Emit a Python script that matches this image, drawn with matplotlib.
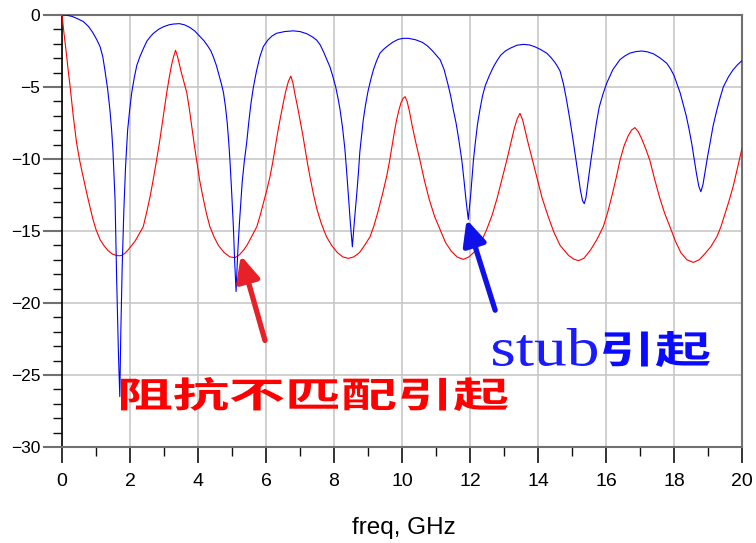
import matplotlib
matplotlib.use("Agg")
import matplotlib.pyplot as plt
import matplotlib.patheffects as pe
from matplotlib.font_manager import FontProperties
from matplotlib.patches import PathPatch
from matplotlib.textpath import TextPath
from matplotlib.transforms import Affine2D

# blue trace (dB vs GHz)
blue_freq = [
    0.00, 0.15, 0.30, 0.45, 0.63, 0.78, 0.90, 1.02, 1.12, 1.20, 1.26, 1.34, 1.41, 1.46,
    1.50, 1.56, 1.61, 1.66, 1.70, 1.73, 1.77, 1.82, 1.87, 1.93, 1.99, 2.05, 2.13, 2.20,
    2.29, 2.40, 2.50, 2.60, 2.69, 2.85, 3.00, 3.15, 3.27, 3.45, 3.60, 3.75, 3.90, 4.06,
    4.18, 4.30, 4.38, 4.45, 4.54, 4.62, 4.69, 4.75, 4.81, 4.86, 4.90, 4.94, 4.99, 5.04,
    5.08, 5.12, 5.15, 5.18, 5.22, 5.26, 5.30, 5.36, 5.43, 5.50, 5.56, 5.63, 5.72, 5.82,
    5.92, 6.05, 6.18, 6.31, 6.55, 6.80, 7.00, 7.20, 7.35, 7.49, 7.60, 7.70, 7.79, 7.88,
    7.97, 8.05, 8.12, 8.18, 8.25, 8.32, 8.37, 8.42, 8.48, 8.54, 8.60, 8.67, 8.72, 8.76,
    8.81, 8.86, 8.93, 9.00, 9.08, 9.16, 9.25, 9.35, 9.45, 9.55, 9.72, 9.89, 10.04, 10.19,
    10.40, 10.60, 10.75, 10.90, 11.01, 11.12, 11.24, 11.35, 11.43, 11.51, 11.59, 11.66,
    11.71, 11.76, 11.82, 11.88, 11.95, 12.02, 12.06, 12.10, 12.16, 12.22, 12.29, 12.37,
    12.45, 12.57, 12.69, 12.80, 12.90, 13.04, 13.18, 13.38, 13.57, 13.75, 13.90, 14.08,
    14.26, 14.38, 14.50, 14.58, 14.65, 14.75, 14.84, 14.94, 15.02, 15.10, 15.18, 15.25,
    15.31, 15.36, 15.41, 15.46, 15.55, 15.63, 15.71, 15.80, 15.91, 16.02, 16.20, 16.41,
    16.55, 16.70, 16.88, 17.05, 17.22, 17.40, 17.60, 17.79, 17.90, 18.00, 18.09, 18.18,
    18.27, 18.36, 18.44, 18.52, 18.60, 18.66, 18.73, 18.79, 18.85, 18.92, 18.99, 19.06,
    19.15, 19.25, 19.35, 19.45, 19.60, 19.74, 19.87, 20.00,
]
blue_db = [
    0.00, -0.02, -0.10, -0.25, -0.46, -0.80, -1.20, -1.70, -2.20, -2.90, -3.80, -5.10, -6.60, -8.00,
    -9.50, -12.8, -18.6, -23.5, -26.5, -22.0, -17.5, -13.5, -10.5, -8.00, -6.60, -5.40, -4.30, -3.50,
    -2.90, -2.30, -1.80, -1.50, -1.27, -0.98, -0.80, -0.68, -0.63, -0.60, -0.68, -0.85, -1.10, -1.50,
    -1.80, -2.20, -2.50, -2.90, -3.50, -4.20, -4.80, -5.40, -6.40, -7.50, -8.70, -10.1, -12.3, -14.7,
    -17.2, -19.2, -17.5, -16.0, -14.4, -13.0, -11.6, -10.2, -8.90, -7.30, -6.10, -5.00, -3.90, -2.90,
    -2.20, -1.75, -1.45, -1.27, -1.15, -1.10, -1.15, -1.30, -1.50, -1.74, -2.10, -2.60, -3.10, -3.60,
    -4.30, -5.00, -5.80, -6.60, -7.80, -9.30, -10.8, -12.4, -14.4, -16.1, -14.3, -12.4, -10.9, -9.50,
    -8.40, -7.30, -6.20, -5.30, -4.50, -3.80, -3.20, -2.66, -2.40, -2.20, -1.90, -1.69, -1.62, -1.62,
    -1.72, -1.90, -2.15, -2.50, -2.80, -3.10, -3.80, -4.80, -5.60, -6.60, -7.50, -8.50,
    -9.30, -10.1, -11.4, -12.8, -14.2, -12.5, -11.3, -10.1, -8.80, -7.60, -6.60, -5.60,
    -4.90, -4.20, -3.60, -3.15, -2.80, -2.50, -2.31, -2.10, -2.04, -2.08, -2.20, -2.40,
    -2.66, -2.95, -3.30, -3.60, -3.90, -4.80, -5.90, -7.30, -8.50, -9.80, -11.1, -12.2,
    -12.9, -13.1, -12.7, -11.8, -10.2, -8.90, -7.60, -6.40, -5.50, -4.74, -3.80, -3.10,
    -2.85, -2.65, -2.54, -2.50, -2.56, -2.70, -3.00, -3.36, -3.75, -4.20, -4.80, -5.40,
    -6.20, -7.00, -7.90, -8.90, -10.1, -11.0, -11.9, -12.27, -11.8, -10.8, -9.80, -8.90,
    -7.70, -6.70, -5.80, -5.00, -4.30, -3.80, -3.45, -3.17,
]

# red trace
red_freq = [
    0.00, 0.06, 0.12, 0.18, 0.24, 0.33, 0.43, 0.52, 0.60, 0.73, 0.82, 0.90, 1.00, 1.12,
    1.23, 1.35, 1.48, 1.61, 1.68, 1.75, 1.85, 1.95, 2.05, 2.15, 2.27, 2.39, 2.50, 2.60,
    2.70, 2.78, 2.87, 2.95, 3.02, 3.08, 3.15, 3.22, 3.28, 3.34, 3.40, 3.45, 3.50, 3.58,
    3.67, 3.75, 3.82, 3.89, 3.96, 4.05, 4.15, 4.25, 4.35, 4.47, 4.60, 4.77, 4.94, 5.09,
    5.22, 5.35, 5.45, 5.55, 5.64, 5.73, 5.83, 5.93, 6.03, 6.12, 6.20, 6.27, 6.34, 6.41,
    6.50, 6.58, 6.66, 6.73, 6.79, 6.86, 6.93, 7.00, 7.08, 7.15, 7.22, 7.29, 7.40, 7.50,
    7.63, 7.78, 7.93, 8.10, 8.26, 8.42, 8.58, 8.75, 8.90, 9.06, 9.18, 9.30, 9.43, 9.55,
    9.63, 9.70, 9.77, 9.84, 9.91, 9.97, 10.03, 10.09, 10.15, 10.22, 10.30, 10.41, 10.53,
    10.66, 10.80, 10.96, 11.12, 11.28, 11.45, 11.62, 11.80, 11.97, 12.15, 12.32, 12.49,
    12.65, 12.80, 12.94, 13.08, 13.19, 13.30, 13.39, 13.47, 13.55, 13.62, 13.70, 13.83,
    13.96, 14.12, 14.30, 14.47, 14.65, 14.90, 15.05, 15.19, 15.35, 15.55, 15.73, 15.92,
    16.05, 16.18, 16.30, 16.41, 16.53, 16.65, 16.75, 16.85, 16.95, 17.05, 17.17, 17.29,
    17.43, 17.58, 17.73, 17.88, 18.04, 18.20, 18.38, 18.57, 18.74, 18.90, 19.08, 19.26,
    19.38, 19.50, 19.62, 19.74, 19.87, 20.00,
]
red_db = [
    0.00, -1.30, -2.50, -3.80, -5.00, -7.00, -8.90, -10.1, -11.0, -12.4, -13.3, -14.1, -14.9, -15.6,
    -16.0, -16.35, -16.6, -16.7, -16.72, -16.7, -16.55, -16.3, -16.0, -15.7, -15.2, -14.7, -13.6, -12.5,
    -11.2, -10.1, -8.80, -7.50, -6.40, -5.40, -4.40, -3.50, -2.90, -2.45, -2.90, -3.40, -3.90, -4.60,
    -5.40, -6.60, -7.80, -9.00, -10.1, -11.5, -12.7, -13.8, -14.7, -15.4, -16.0, -16.5, -16.8, -16.85,
    -16.65, -16.3, -15.95, -15.5, -15.1, -14.7, -13.9, -13.0, -12.1, -11.2, -10.2, -9.20, -8.20, -7.30,
    -6.20, -5.30, -4.60, -4.24, -4.70, -5.60, -6.40, -7.30, -8.30, -9.30, -10.3, -11.2, -12.5, -13.5,
    -14.5, -15.4, -16.0, -16.5, -16.8, -16.9, -16.8, -16.5, -16.0, -15.4, -14.6, -13.6, -12.4, -11.2,
    -10.2, -9.20, -8.20, -7.30, -6.60, -6.10, -5.80, -5.67, -6.00, -6.70, -7.70, -8.90, -10.1,
    -11.5, -12.8, -14.0, -14.9, -15.8, -16.4, -16.8, -16.97, -16.8, -16.4, -15.8, -14.9,
    -13.9, -12.7, -11.4, -10.1, -9.00, -7.90, -7.20, -6.83, -7.30, -8.00, -8.80, -10.0,
    -11.2, -12.7, -14.0, -15.1, -16.0, -16.7, -16.95, -17.06, -16.9, -16.3, -15.6, -14.7,
    -13.7, -12.5, -11.3, -10.1, -9.10, -8.40, -8.00, -7.82, -8.10, -8.60, -9.30, -10.1,
    -11.4, -12.7, -13.8, -14.7, -15.7, -16.5, -17.0, -17.18, -17.0, -16.6, -16.1, -15.4,
    -14.7, -13.8, -12.9, -11.9, -10.6, -9.26,
]

x_ticks = [0, 2, 4, 6, 8, 10, 12, 14, 16, 18, 20]
y_ticks = [0, -5, -10, -15, -20, -25, -30]

W, H = 756, 543

plt.rcParams["font.family"] = ["Liberation Sans", "DejaVu Sans"]

fig = plt.figure(figsize=(W / 100, H / 100), dpi=100)
ax = fig.add_axes([62 / W, 1 - 447 / H, 680 / W, 432 / H])

ax.plot(red_freq, red_db, color="#ff0000", lw=0.8, zorder=3)
ax.plot(blue_freq, blue_db, color="#0000ff", lw=0.8, zorder=4)

ax.set_xlim(0, 20)
ax.set_ylim(-30, 0)
ax.set_xticks(x_ticks)
ax.set_yticks(y_ticks)
ax.set_xticks(range(0, 21), minor=True)
ax.set_yticks(range(-30, 1), minor=True)
ax.grid(True, which="major", color="#c8c8c8", lw=1.2, zorder=0)
ax.tick_params(axis="y", which="major", direction="out", length=13.5, width=1.5,
               color="#707070", labelsize=12.5, pad=2)
ax.tick_params(axis="y", which="minor", direction="out", length=6.8, width=1.0, color="#111111")
ax.tick_params(axis="x", which="major", direction="out", length=11.5, width=1.2,
               color="#111111", labelsize=14, pad=7)
ax.tick_params(axis="x", which="minor", direction="out", length=6.5, width=1.0, color="#111111")
for side in ["top", "right", "bottom"]:
    ax.spines[side].set_color("#707070")
    ax.spines[side].set_linewidth(1.5)
ax.spines["left"].set_color("#000000")
ax.spines["left"].set_linewidth(1.2)
fig.text(404 / W, 1 - 534 / H, "freq, GHz", fontsize=17.5, ha="center", va="baseline")

# arrows pointing at the dips
shadow = [pe.SimplePatchShadow(offset=(-2, -1.5), alpha=0.25), pe.Normal()]
ax.annotate("", xy=(5.26, -16.7), xytext=(5.97, -22.6),
            arrowprops=dict(arrowstyle="-|>,head_length=0.75,head_width=0.35",
                            mutation_scale=20, lw=3.8, color="#e82028",
                            shrinkA=0, shrinkB=0, path_effects=shadow), zorder=5)
ax.annotate("", xy=(11.9, -14.2), xytext=(12.74, -20.5),
            arrowprops=dict(arrowstyle="-|>,head_length=0.75,head_width=0.35",
                            mutation_scale=20, lw=3.8, color="#1010e8",
                            shrinkA=0, shrinkB=0, path_effects=shadow), zorder=5)


def boxed_text(s, family, weight, box, color):
    # glyph outlines stretched to fill a pixel box (left, top, right, bottom)
    tp = TextPath((0, 0), s, size=1, prop=FontProperties(family=family, weight=weight))
    ext = tp.get_extents()
    x0, y0, x1, y1 = box
    tr = (Affine2D().translate(-ext.x0, -ext.y0)
          .scale((x1 - x0) / ext.width, (y1 - y0) / ext.height)
          .translate(x0, H - y1).scale(1 / W, 1 / H) + fig.transFigure)
    fig.add_artist(PathPatch(tp, transform=tr, facecolor=color, edgecolor="none", zorder=6))


boxed_text("阻抗不匹配引起", "Noto Sans CJK SC", "bold", (121, 377, 508, 411), "#ff0000")
boxed_text("stub", "Liberation Serif", "normal", (493, 328, 597, 366), "#1a1aff")
boxed_text("引起", "Noto Sans CJK SC", "bold", (603, 331, 710, 367), "#0a0aff")

fig.savefig("out.png", dpi=100, facecolor="white")
